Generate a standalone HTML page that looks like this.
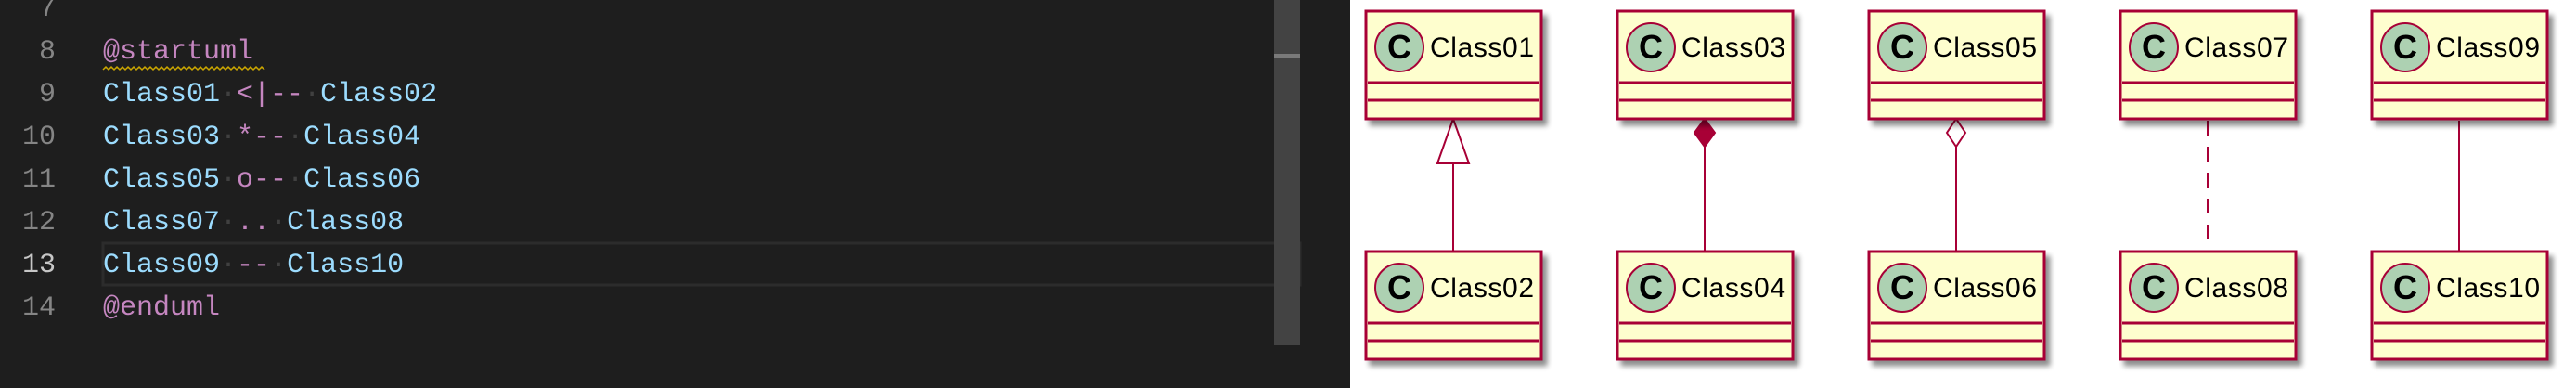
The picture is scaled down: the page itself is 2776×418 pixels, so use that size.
<!DOCTYPE html>
<html><head><meta charset="utf-8"><style>
html,body{margin:0;padding:0;background:#1e1e1e;}
svg{display:block;}
.ln{font-family:"Liberation Mono",monospace;font-size:30px;fill:#858585;text-anchor:end;}
.cd{font-family:"Liberation Mono",monospace;font-size:30px;}
.c{fill:#9cdcfe}.p{fill:#c586c0}.d{fill:#404040}
.cn{font-family:"Liberation Sans",sans-serif;font-size:30px;fill:#000;}
</style></head><body>
<svg width="2776" height="418" viewBox="0 0 2776 418" xmlns="http://www.w3.org/2000/svg">
<defs>
<filter id="sh" x="-10%" y="-10%" width="130%" height="130%">
<feGaussianBlur in="SourceAlpha" stdDeviation="3"/>
<feOffset dx="5" dy="6"/>
<feComponentTransfer><feFuncA type="linear" slope="0.45"/></feComponentTransfer>
<feMerge><feMergeNode/><feMergeNode in="SourceGraphic"/></feMerge>
</filter>
<g id="cls">
<rect x="0" y="0" width="189" height="116" fill="#fefece" stroke="#a80036" stroke-width="3" filter="url(#sh)"/>
<line x1="2" y1="77" x2="187" y2="77" stroke="#a80036" stroke-width="3"/>
<line x1="2" y1="96" x2="187" y2="96" stroke="#a80036" stroke-width="3"/>
<circle cx="36" cy="39" r="26" fill="#add1b2" stroke="#a80036" stroke-width="2"/>
<text x="36" y="51" font-family="Liberation Sans,sans-serif" font-weight="bold" font-size="36" text-anchor="middle" fill="#000">C</text>
</g>
</defs>
<rect x="0" y="0" width="1455" height="418" fill="#1e1e1e"/>
<rect x="111" y="262" width="1290" height="45" fill="#1e1e1e" stroke="#2c2c2c" stroke-width="3"/>
<rect x="1373" y="0" width="28" height="372" fill="#434343"/>
<rect x="1373" y="58" width="28" height="4" fill="#7a7a7a"/>
<text class="ln" x="60" y="17">7</text>
<text class="ln" x="60" y="63">8</text>
<text class="ln" x="60" y="109">9</text>
<text class="ln" x="60" y="155">10</text>
<text class="ln" x="60" y="201">11</text>
<text class="ln" x="60" y="247">12</text>
<text class="ln" x="60" y="293" style="fill:#c6c6c6">13</text>
<text class="ln" x="60" y="339">14</text>
<text class="cd" x="111" y="63"><tspan class="p">@startuml</tspan></text>
<path d="M111 75 l3 -3 l3 3 l3 -3 l3 3 l3 -3 l3 3 l3 -3 l3 3 l3 -3 l3 3 l3 -3 l3 3 l3 -3 l3 3 l3 -3 l3 3 l3 -3 l3 3 l3 -3 l3 3 l3 -3 l3 3 l3 -3 l3 3 l3 -3 l3 3 l3 -3 l3 3 l3 -3 l3 3 l3 -3 l3 3 l3 -3 l3 3 l3 -3 l3 3 l3 -3 l3 3 l3 -3 l3 3 l3 -3 l3 3 l3 -3 l3 3 l3 -3 l3 3 l3 -3 l3 3 l3 -3 l3 3 l3 -3 l3 3 l3 -3 l3 3 l3 -3 l3 3 l3 -3 l3 3" fill="none" stroke="#cca700" stroke-width="1.5"/>
<text class="cd" x="111" y="109"><tspan class="c">Class01</tspan><tspan class="d">·</tspan><tspan class="p">&lt;|--</tspan><tspan class="d">·</tspan><tspan class="c">Class02</tspan></text>
<text class="cd" x="111" y="155"><tspan class="c">Class03</tspan><tspan class="d">·</tspan><tspan class="p">*--</tspan><tspan class="d">·</tspan><tspan class="c">Class04</tspan></text>
<text class="cd" x="111" y="201"><tspan class="c">Class05</tspan><tspan class="d">·</tspan><tspan class="p">o--</tspan><tspan class="d">·</tspan><tspan class="c">Class06</tspan></text>
<text class="cd" x="111" y="247"><tspan class="c">Class07</tspan><tspan class="d">·</tspan><tspan class="p">..</tspan><tspan class="d">·</tspan><tspan class="c">Class08</tspan></text>
<text class="cd" x="111" y="293"><tspan class="c">Class09</tspan><tspan class="d">·</tspan><tspan class="p">--</tspan><tspan class="d">·</tspan><tspan class="c">Class10</tspan></text>
<text class="cd" x="111" y="339"><tspan class="p">@enduml</tspan></text>

<rect x="1455" y="0" width="1321" height="418" fill="#ffffff"/>

<!-- connectors -->
<g stroke="#a80036" stroke-width="2" fill="none">
<line x1="1566" y1="176" x2="1566" y2="271"/>
<polygon points="1566,128 1549,176 1583,176" fill="#ffffff"/>
<line x1="1837" y1="158" x2="1837" y2="271"/>
<polygon points="1837,128 1826,143 1837,158 1848,143" fill="#a80036"/>
<line x1="2108" y1="158" x2="2108" y2="271"/>
<polygon points="2108,128 2098,143 2108,158 2118,143" fill="#ffffff"/>
<line x1="2379" y1="130" x2="2379" y2="271" stroke-dasharray="16,12"/>
<line x1="2650" y1="130" x2="2650" y2="271"/>
</g>

<use href="#cls" x="1472" y="12"/><text class="cn" x="1541" y="61" textLength="112">Class01</text>
<use href="#cls" x="1472" y="271"/><text class="cn" x="1541" y="320" textLength="112">Class02</text>
<use href="#cls" x="1743" y="12"/><text class="cn" x="1812" y="61" textLength="112">Class03</text>
<use href="#cls" x="1743" y="271"/><text class="cn" x="1812" y="320" textLength="112">Class04</text>
<use href="#cls" x="2014" y="12"/><text class="cn" x="2083" y="61" textLength="112">Class05</text>
<use href="#cls" x="2014" y="271"/><text class="cn" x="2083" y="320" textLength="112">Class06</text>
<use href="#cls" x="2285" y="12"/><text class="cn" x="2354" y="61" textLength="112">Class07</text>
<use href="#cls" x="2285" y="271"/><text class="cn" x="2354" y="320" textLength="112">Class08</text>
<use href="#cls" x="2556" y="12"/><text class="cn" x="2625" y="61" textLength="112">Class09</text>
<use href="#cls" x="2556" y="271"/><text class="cn" x="2625" y="320" textLength="112">Class10</text>
</svg>
</body></html>
